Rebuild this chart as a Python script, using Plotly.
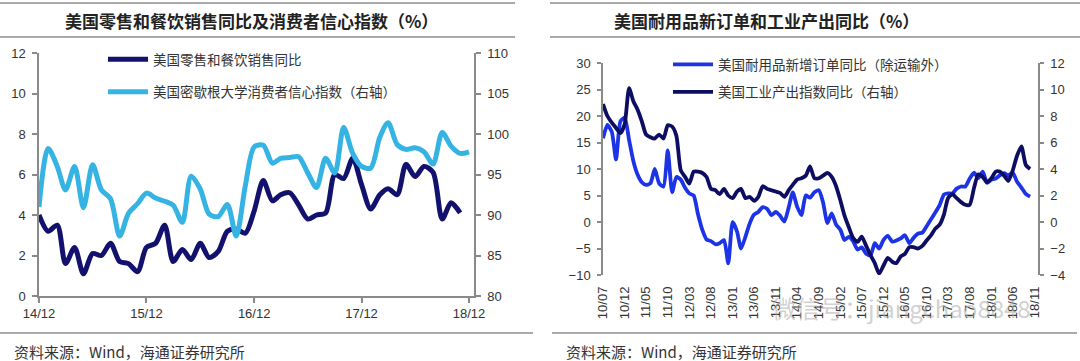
import plotly.graph_objects as go
import pandas as pd

W, H = 1080, 361

# ---------------- Left chart data ----------------
left_start = "2014-12-01"
retail_food_sales_yoy = [4.0, 3.2, 3.5, 1.6, 2.4, 1.1, 2.1, 2.0, 2.6, 1.7,
                         1.6, 1.2, 2.4, 2.6, 3.5, 1.7, 2.3, 1.8, 2.6, 1.9,
                         2.2, 3.2, 3.3, 3.1, 4.2, 5.7, 4.7, 5.0, 5.1, 4.5,
                         3.8, 4.0, 4.1, 6.0, 5.8, 6.8, 5.5, 4.3, 5.0, 5.3,
                         5.0, 6.5, 5.9, 6.4, 6.1, 3.8, 4.6, 4.1]
michigan_sentiment = [91.0, 98.2, 96.0, 93.1, 96.0, 90.9, 96.2, 93.1, 92.0, 87.4,
                      90.2, 91.4, 92.7, 92.1, 91.7, 91.2, 89.1, 94.8, 93.2, 90.1,
                      89.8, 91.3, 87.4, 93.6, 98.4, 98.6, 96.4, 97.0, 97.1, 97.2,
                      95.2, 93.4, 97.0, 95.2, 100.8, 97.6, 96.0, 95.8, 99.6, 101.4,
                      98.7, 98.1, 98.3, 97.8, 96.3, 100.2, 98.5, 97.6, 97.8]
left_tick_dates = ["2014-12-01", "2015-12-01", "2016-12-01", "2017-12-01", "2018-12-01"]
left_tick_labels = ["14/12", "15/12", "16/12", "17/12", "18/12"]

# ---------------- Right chart data ----------------
right_start = "2010-07-01"
durable_orders_yoy = [15.8, 18.3, 17.0, 11.8, 19.0, 19.7, 15.5, 11.4, 9.0, 7.5,
                      7.0, 7.3, 10.0, 7.3, 6.7, 13.5, 5.6, 8.5, 8.0, 6.4,
                      5.4, 5.0, 1.5, -1.5, -3.3, -3.6, -4.2, -4.0, -3.4, -7.8,
                      0.0, -1.8, -5.0, -2.8, -0.3, 1.4, 1.9, 2.8, 2.5, 1.3,
                      1.9, 1.2, 0.1, 2.8, 5.6, 2.9, 1.3, 5.0, 4.6, 5.6,
                      6.0, 3.7, -0.2, 1.6, -0.5, -1.5, -3.4, -2.8, -3.6, -5.2,
                      -4.8, -6.0, -6.3, -4.0, -5.0, -3.4, -2.6, -3.7, -3.5, -3.1,
                      -2.5, -4.0, -3.0, -2.2, -2.0, -0.8, 0.5, 1.8, 3.2, 5.2,
                      5.4, 5.4, 6.3, 6.7, 6.7, 8.2, 9.3, 8.3, 9.5, 7.4,
                      8.0, 8.2, 8.8, 9.2, 8.8, 9.3, 7.6, 6.5, 5.3, 4.8]
industrial_prod_yoy = [8.9, 8.0, 7.5, 7.1, 6.7, 7.4, 10.1, 9.1, 8.5, 7.6,
                       6.6, 6.4, 6.3, 6.6, 6.3, 7.3, 7.2, 6.5, 3.9, 3.4,
                       2.9, 3.8, 3.8, 3.7, 3.4, 2.5, 2.4, 2.1, 2.5, 2.0,
                       1.8, 2.3, 2.5, 1.8, 1.9, 1.6, 1.9, 2.7, 2.5, 2.4,
                       2.3, 2.2, 1.9, 2.4, 2.8, 3.2, 3.3, 3.5, 4.2, 3.3,
                       3.3, 3.5, 3.7, 3.4, 2.7, 1.6, 0.5, -0.4, -1.2, -1.5,
                       -1.1, -1.8, -2.5, -3.1, -3.9, -3.3, -2.7, -3.0, -3.1, -2.6,
                       -2.4, -1.9, -1.9, -2.0, -1.8, -1.4, -1.0, -0.5, -0.2, 0.6,
                       1.8, 2.1, 1.8, 1.5, 1.3, 1.3, 2.6, 3.6, 3.4, 3.0,
                       3.3, 3.8, 3.8, 3.5, 3.1, 3.9, 5.0, 5.7, 4.3, 4.0]
right_tick_labels = ["10/07", "10/12", "11/05", "11/10", "12/03", "12/08", "13/01",
                     "13/06", "13/11", "14/04", "14/09", "15/02", "15/07", "15/12",
                     "16/05", "16/10", "17/03", "17/08", "18/01", "18/06", "18/11"]

# ---------------- Styles ----------------
NAVY_L = "#12126e"
LIGHT = "#35b4e4"
BLUE = "#1c34e6"
NAVY_R = "#0d0d62"
AXIS = "#8a8a8a"
TXT = "#333333"
CJK = "Noto Sans CJK SC"
LAT = "Liberation Sans, Arial"

def px_x(p):
    return p / W

def px_y(p):
    return 1 - p / H

left_dates = pd.date_range(left_start, periods=len(michigan_sentiment), freq="MS")
right_dates = pd.date_range(right_start, periods=len(durable_orders_yoy), freq="MS")
right_tick_dates = [pd.Timestamp(2000 + int(s[:2]), int(s[3:]), 1) for s in right_tick_labels]

fig = go.Figure()

fig.add_trace(go.Scatter(
    x=left_dates[:len(retail_food_sales_yoy)], y=retail_food_sales_yoy,
    name="美国零售和餐饮销售同比", mode="lines",
    line=dict(color=NAVY_L, width=5, shape="spline", smoothing=0.8),
    xaxis="x", yaxis="y", legend="legend", legendgroup="g0"))
fig.add_trace(go.Scatter(
    x=left_dates, y=michigan_sentiment,
    name="美国密歇根大学消费者信心指数（右轴）", mode="lines",
    line=dict(color=LIGHT, width=5, shape="spline", smoothing=0.8),
    xaxis="x", yaxis="y2", legend="legend", legendgroup="g1"))

fig.add_trace(go.Scatter(
    x=right_dates, y=durable_orders_yoy,
    name="美国耐用品新增订单同比（除运输外）", mode="lines",
    line=dict(color=BLUE, width=3.8, shape="spline", smoothing=0.6),
    xaxis="x2", yaxis="y3", legend="legend2", legendgroup="g2"))
fig.add_trace(go.Scatter(
    x=right_dates, y=industrial_prod_yoy,
    name="美国工业产出指数同比（右轴）", mode="lines",
    line=dict(color=NAVY_R, width=3.8, shape="spline", smoothing=0.6),
    xaxis="x2", yaxis="y4", legend="legend2", legendgroup="g3"))

tickfont = dict(family=LAT, size=13, color=TXT)

y3_dom = [px_y(275), px_y(63)]
y3_range = [-10, 30]
zero_pos = y3_dom[0] + (0 - y3_range[0]) / (y3_range[1] - y3_range[0]) * (y3_dom[1] - y3_dom[0])

right_end = pd.Timestamp(right_start) + pd.Timedelta(days=3070)

common_y = dict(ticks="outside", tickcolor=AXIS, tickwidth=1.5, showline=True,
                linecolor=AXIS, linewidth=1.5, showgrid=False, zeroline=False,
                tickfont=tickfont, ticklabelstandoff=4, automargin=False)

fig.update_layout(
    width=W, height=H, margin=dict(l=0, r=0, t=0, b=0, autoexpand=False),
    paper_bgcolor="white", plot_bgcolor="white",
    showlegend=True,
    xaxis=dict(domain=[px_x(39), px_x(474)], anchor="y", type="date",
               range=["2014-12-01", "2018-12-18"],
               tickmode="array", tickvals=left_tick_dates, ticktext=left_tick_labels,
               ticks="outside", ticklen=5, tickcolor=AXIS, tickwidth=1.5,
               showline=True, linecolor=AXIS, linewidth=1.5, showgrid=False,
               zeroline=False, tickfont=tickfont, automargin=False),
    yaxis=dict(domain=[px_y(296), px_y(53)], anchor="x", range=[0, 12], dtick=2,
               ticklen=5, **common_y),
    yaxis2=dict(overlaying="y", side="right", anchor="x", range=[80, 110], dtick=5,
                ticklen=5, **common_y),
    xaxis2=dict(domain=[px_x(603), px_x(1038)], anchor="y3", type="date",
                range=[right_start, right_end],
                tickmode="array", tickvals=right_tick_dates, ticktext=right_tick_labels,
                tickangle=-90, ticks="", showline=False, showgrid=False, zeroline=False,
                tickfont=tickfont, ticklabelstandoff=8, automargin=False),
    xaxis3=dict(overlaying="x2", anchor="free", position=zero_pos, type="date",
                range=[right_start, right_end],
                tickmode="array", tickvals=right_tick_dates,
                showticklabels=False, ticks="outside", ticklen=4, tickcolor=AXIS,
                tickwidth=1.5, showline=True, linecolor=AXIS, linewidth=1.5,
                showgrid=False, zeroline=False, automargin=False),
    yaxis3=dict(domain=y3_dom, anchor="x2", range=y3_range, dtick=5,
                ticklen=4, **common_y),
    yaxis4=dict(overlaying="y3", side="right", anchor="x2", range=[-4, 12], dtick=2,
                ticklen=4, **common_y),
    legend=dict(x=px_x(103), y=px_y(44), xanchor="left", yanchor="top",
                bgcolor="rgba(0,0,0,0)", tracegroupgap=12, itemwidth=40,
                font=dict(family=CJK, size=13.5, color=TXT)),
    legend2=dict(x=px_x(668), y=px_y(49), xanchor="left", yanchor="top",
                 bgcolor="rgba(0,0,0,0)", tracegroupgap=7, itemwidth=40,
                 font=dict(family=CJK, size=13.5, color=TXT)),
)

title_font = dict(family=CJK, size=17, color="#222222", weight="bold")
src_font = dict(family=CJK, size=15, color=TXT)
annotations = [
    dict(text="美国零售和餐饮销售同比及消费者信心指数（%）", x=px_x(251), y=px_y(20),
         xanchor="center", yanchor="middle", font=title_font),
    dict(text="美国耐用品新订单和工业产出同比（%）", x=px_x(766), y=px_y(20),
         xanchor="center", yanchor="middle", font=title_font),
    dict(text="资料来源：Wind，海通证券研究所", x=px_x(12), y=px_y(351),
         xanchor="left", yanchor="middle", font=src_font),
    dict(text="资料来源：Wind，海通证券研究所", x=px_x(564), y=px_y(351),
         xanchor="left", yanchor="middle", font=src_font),
    dict(text="微信号：jiangchao8848", x=px_x(770), y=px_y(307),
         xanchor="left", yanchor="middle",
         font=dict(family=CJK, size=24, color="rgba(170,170,170,0.55)")),
]
for a in annotations:
    a.update(xref="paper", yref="paper", showarrow=False)
fig.update_layout(annotations=annotations)

line_style = dict(color="#8c8c8c", width=1.5)
shapes = []
for (x0, x1, yy) in [(0, 515, 3), (0, 515, 37), (0, 533, 333),
                     (550, 1080, 3), (550, 1080, 37), (552, 1077, 333)]:
    shapes.append(dict(type="line", xref="paper", yref="paper",
                       x0=px_x(x0), x1=px_x(x1), y0=px_y(yy), y1=px_y(yy),
                       line=line_style))
fig.update_layout(shapes=shapes)

fig.write_html("out.html", config={"displayModeBar": False},
               post_script="document.body.style.margin='0px';")
